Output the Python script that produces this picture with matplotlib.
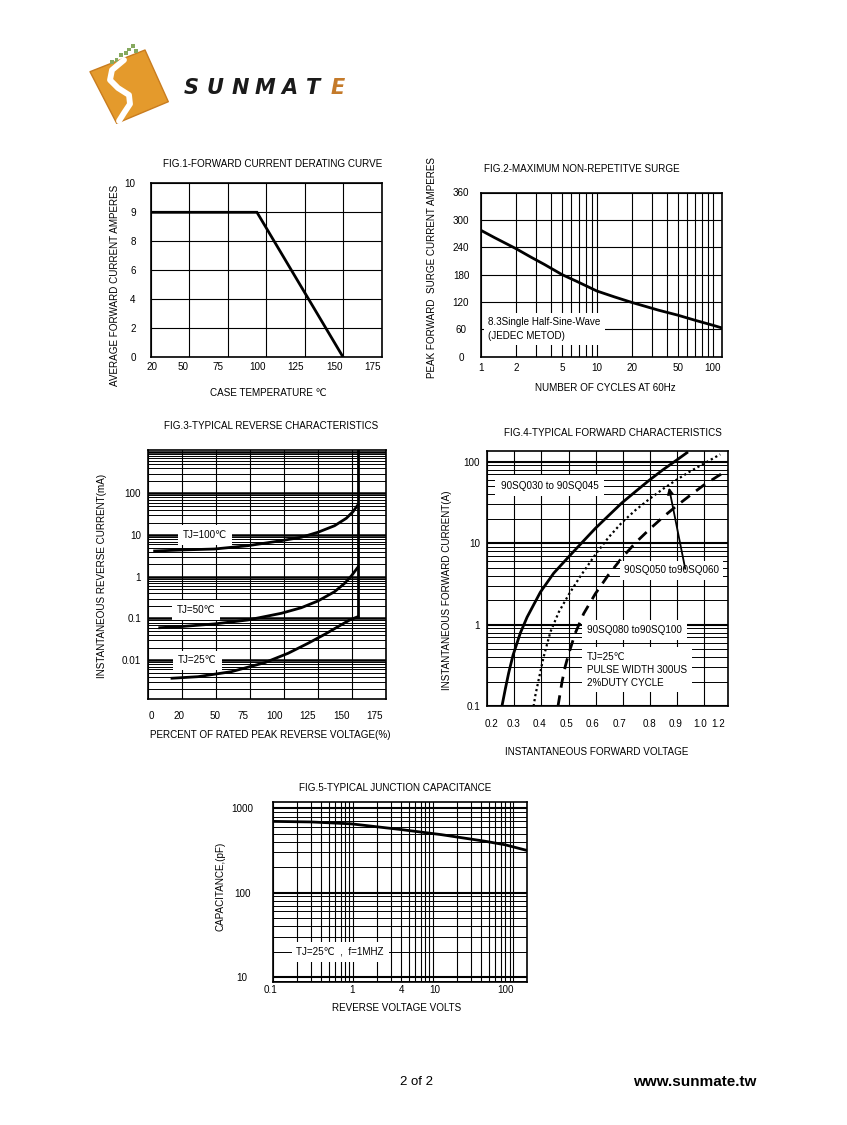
import numpy as np
import matplotlib
matplotlib.use("Agg")
import matplotlib.pyplot as plt
import matplotlib.transforms as mtransforms
from matplotlib.patches import Polygon, Rectangle
from matplotlib.ticker import FixedLocator, NullFormatter, FixedFormatter

plt.rcParams['font.family'] = ['Liberation Sans', 'DejaVu Sans']

# ---------------- data ----------------
# Fig.1 forward current derating
fig1_temp = [20, 94, 150]
fig1_amps = [9, 9, 0]
fig1_xticks = [20, 50, 75, 100, 125, 150, 175]
fig1_yticks = [0, 2, 4, 6, 8, 9, 10]

# Fig.2 max non-repetitive surge
fig2_cycles = [1, 1.31, 2, 2.71, 3.54, 5, 6.85, 10, 14.2, 20, 34, 50, 70, 100, 120]
fig2_amps = [277, 261, 237, 218, 202, 180, 164, 144, 131, 119, 102, 91, 80, 69, 63]
fig2_xticks = [1, 2, 5, 10, 20, 50, 100]
fig2_yticks = [0, 60, 120, 180, 240, 300, 360]

# Fig.3 typical reverse characteristics
fig3_xticks = [0, 20, 50, 75, 100, 125, 150, 175]
fig3_yticks = [0.01, 0.1, 1, 10, 100]
fig3_pct_100 = [3.9, 19.6, 48.8, 73.5, 98, 112.7, 125, 137.2, 145.8, 150.7, 154.3]
fig3_ma_100 = [4.15, 4.39, 4.64, 5.57, 7.34, 8.86, 11.7, 16.8, 25.3, 36.4, 52.7]
fig3_pct_50 = [6.9, 19.6, 48.8, 73.5, 98, 112.7, 125, 137.2, 144.6, 149.5, 154.3]
fig3_ma_50 = [0.060, 0.064, 0.074, 0.092, 0.133, 0.181, 0.263, 0.439, 0.698, 1.045, 1.69]
fig3_pct_25 = [14.1, 34.1, 61.3, 85.8, 103, 117.7, 130, 141, 148.3, 154.3]
fig3_ma_25 = [0.00368, 0.00401, 0.00529, 0.0087, 0.0146, 0.0254, 0.0417, 0.0672, 0.092, 0.110]
fig3_break_pct = [154.3, 154.3]
fig3_break_ma = [0.110, 1100]

# Fig.4 typical forward characteristics
fig4_xticks = [0.2, 0.3, 0.4, 0.5, 0.6, 0.7, 0.8, 0.9, 1.0, 1.2]
fig4_yticks = [0.1, 1, 10, 100]
fig4_v_045 = [0.254, 0.267, 0.279, 0.295, 0.322, 0.347, 0.396, 0.445, 0.501, 0.550,
              0.599, 0.648, 0.697, 0.747, 0.798, 0.849, 0.898, 0.937]
fig4_a_045 = [0.1, 0.166, 0.257, 0.423, 0.792, 1.24, 2.51, 4.28, 6.84, 10.2,
              15.2, 21.8, 31.2, 42.9, 59.1, 79.6, 103.7, 128.5]
fig4_v_060 = [0.371, 0.377, 0.390, 0.408, 0.433, 0.464, 0.501, 0.543, 0.599, 0.648,
              0.697, 0.747, 0.798, 0.849, 0.898, 0.950, 0.999, 1.134]
fig4_a_060 = [0.1, 0.134, 0.214, 0.403, 0.815, 1.43, 2.35, 3.90, 7.24, 11.8,
              17.9, 25.4, 34.7, 46.3, 59.6, 76.2, 94.2, 122.8]
fig4_v_100 = [0.461, 0.476, 0.488, 0.501, 0.525, 0.556, 0.599, 0.648, 0.697, 0.747,
              0.798, 0.849, 0.898, 0.950, 0.999, 1.107, 1.2]
fig4_a_100 = [0.1, 0.200, 0.310, 0.444, 0.792, 1.37, 2.40, 4.12, 6.6, 10.1,
              14.7, 20.9, 28.5, 38.8, 51.4, 65.4, 79.6]
fig4_arrow_tail = (0.931, 4.84)
fig4_arrow_head = (0.871, 48)

# Fig.5 typical junction capacitance
fig5_volts = [0.105, 0.3, 0.95, 4.0, 12.6, 44, 79, 150]
fig5_pf = [700, 690, 655, 560, 488, 408, 370, 316]
fig5_xticks = [0.1, 1, 4, 10, 100]
fig5_yticks = [10, 100, 1000]

# ---------------- layout helpers ----------------
W, H = 847, 1125
FS = 7.1
fig = plt.figure(figsize=(W / 100, H / 100), dpi=100)
fig.patch.set_facecolor('white')


def fx(px):
    return px / W


def fy(py):
    return 1 - py / H


def rect(x0, x1, y0, y1):
    return [x0 / W, 1 - y1 / H, (x1 - x0) / W, (y1 - y0) / H]


def ftxt(px, py, s, **kw):
    kw.setdefault('fontsize', FS)
    kw.setdefault('ha', 'center')
    kw.setdefault('va', 'center')
    fig.text(fx(px), fy(py), s, **kw)


def piecewise_pos(ticks, pos=None):
    t = np.asarray(ticks, dtype=float)
    p = np.arange(len(t), dtype=float) if pos is None else np.asarray(pos, dtype=float)
    return (lambda v: np.interp(v, t, p), lambda q: np.interp(q, p, t))


def style(ax, xpad, ypad):
    for s in ax.spines.values():
        s.set_linewidth(1.2)
        s.set_color('black')
    ax.tick_params(which='both', length=0, labelsize=FS, colors='black')
    ax.tick_params(axis='x', pad=xpad)
    ax.tick_params(axis='y', pad=ypad)
    ax.set_axisbelow(True)


def shift_xlabels(ax, shifts_px):
    for lab, dx in zip(ax.get_xticklabels(), shifts_px):
        lab.set_transform(lab.get_transform() +
                          mtransforms.ScaledTranslation(dx / 100, 0, fig.dpi_scale_trans))


def minor_list(lo_exp, hi_exp, exclude=()):
    out = []
    for e in range(lo_exp, hi_exp + 1):
        for m in range(2, 10):
            v = m * 10.0 ** e
            if not any(abs(v - x) < 1e-9 * max(1, v) for x in exclude):
                out.append(v)
    return out


LW = 2.0

# ---------------- Fig.1 ----------------
ax1 = fig.add_axes(rect(150.7, 381.7, 183.3, 357.3))
ax1.set_xscale('function', functions=piecewise_pos(fig1_xticks))
ax1.set_yscale('function', functions=piecewise_pos(fig1_yticks))
ax1.set_xlim(20, 175)
ax1.set_ylim(0, 10)
ax1.xaxis.set_major_locator(FixedLocator(fig1_xticks))
ax1.yaxis.set_major_locator(FixedLocator(fig1_yticks))
ax1.set_xticklabels([str(v) for v in fig1_xticks])
ax1.set_yticklabels([str(v) for v in fig1_yticks])
ax1.grid(True, color='black', lw=0.8)
ax1.plot(fig1_temp, fig1_amps, color='black', lw=LW, solid_joinstyle='miter')
style(ax1, 3.2, 10.8)
shift_xlabels(ax1, [1.6, -6.6, -10, -9, -9, -9, -9])
ftxt(272.5, 164, 'FIG.1-FORWARD CURRENT DERATING CURVE')
ftxt(115, 285, 'AVERAGE FORWARD CURRENT AMPERES', rotation=90)
ftxt(268, 393, 'CASE TEMPERATURE ℃')

# ---------------- Fig.2 ----------------
ax2 = fig.add_axes(rect(481, 722, 192.5, 356.7))
ax2.set_xscale('log')
ax2.set_xlim(1, 120)
ax2.set_ylim(0, 360)
ax2.xaxis.set_major_locator(FixedLocator(fig2_xticks))
ax2.xaxis.set_major_formatter(FixedFormatter([str(v) for v in fig2_xticks]))
ax2.xaxis.set_minor_locator(FixedLocator(minor_list(0, 1, exclude=fig2_xticks)))
ax2.xaxis.set_minor_formatter(NullFormatter())
ax2.yaxis.set_major_locator(FixedLocator(fig2_yticks))
ax2.set_yticklabels([str(v) for v in fig2_yticks])
plt.setp(ax2.get_yticklabels(), ha='center')
ax2.grid(True, which='both', color='black', lw=0.8)
ax2.plot(fig2_cycles, fig2_amps, color='black', lw=LW)
style(ax2, 4.8, 14.4)
ax2.text(0.03, 0.168, '8.3Single Half-Sine-Wave\n(JEDEC METOD)', transform=ax2.transAxes,
         fontsize=FS, ha='left', va='center', linespacing=1.45,
         bbox=dict(facecolor='white', edgecolor='none', pad=3))
ftxt(581.7, 169.3, 'FIG.2-MAXIMUM NON-REPETITVE SURGE')
ftxt(431.7, 268, 'PEAK FORWARD  SURGE CURRENT AMPERES', rotation=90)
ftxt(605.8, 388.3, 'NUMBER OF CYCLES AT 60Hz')

# ---------------- Fig.3 ----------------
ax3 = fig.add_axes(rect(148, 386, 450, 699.3))
ax3.set_xscale('function', functions=piecewise_pos(fig3_xticks))
ax3.set_yscale('log')
ax3.set_xlim(0, 175)
ax3.set_ylim(0.00115, 1100)
ax3.xaxis.set_major_locator(FixedLocator(fig3_xticks))
ax3.set_xticklabels([str(v) for v in fig3_xticks])
ax3.yaxis.set_major_locator(FixedLocator(fig3_yticks + [0.001, 1000]))
ax3.yaxis.set_major_formatter(FixedFormatter(['0.01', '0.1', '1', '10', '100', '', '']))
ax3.yaxis.set_minor_locator(FixedLocator(minor_list(-3, 2)))
ax3.yaxis.set_minor_formatter(NullFormatter())
ax3.grid(True, axis='x', color='black', lw=0.8)
ax3.grid(True, axis='y', which='major', color='black', lw=1.8)
ax3.grid(True, axis='y', which='minor', color='black', lw=0.7)
ax3.plot(fig3_pct_100, fig3_ma_100, color='black', lw=LW)
ax3.plot(fig3_pct_50, fig3_ma_50, color='black', lw=LW)
ax3.plot(fig3_pct_25, fig3_ma_25, color='black', lw=LW)
ax3.plot(fig3_break_pct, fig3_break_ma, color='black', lw=LW)
style(ax3, 8.2, 5)
shift_xlabels(ax3, [3, -3, -1, -7, -9, -10, -10, -11])
for xf, yf, s in [(0.148, 0.659, 'TJ=100℃'), (0.121, 0.357, 'TJ=50℃'), (0.127, 0.156, 'TJ=25℃')]:
    ax3.text(xf, yf, s, transform=ax3.transAxes, fontsize=FS, ha='left', va='center',
             bbox=dict(facecolor='white', edgecolor='none', pad=3.5))
ftxt(270.7, 426, 'FIG.3-TYPICAL REVERSE CHARACTERISTICS')
ftxt(101.7, 576, 'INSTANTANEOUS REVERSE CURRENT(mA)', rotation=90)
ftxt(270, 735, 'PERCENT OF RATED PEAK REVERSE VOLTAGE(%)')

# ---------------- Fig.4 ----------------
ax4 = fig.add_axes(rect(487.3, 728.3, 451, 706.3))
ax4.set_xscale('function', functions=piecewise_pos(fig4_xticks, [0, 1, 2, 3, 4, 5, 6, 7, 8, 8.9]))
ax4.set_yscale('log')
ax4.set_xlim(0.2, 1.2)
ax4.set_ylim(0.1, 135)
ax4.xaxis.set_major_locator(FixedLocator(fig4_xticks))
ax4.set_xticklabels(['%.1f' % v for v in fig4_xticks])
ax4.yaxis.set_major_locator(FixedLocator(fig4_yticks))
ax4.yaxis.set_major_formatter(FixedFormatter(['0.1', '1', '10', '100']))
ax4.yaxis.set_minor_locator(FixedLocator(minor_list(-1, 2)))
ax4.yaxis.set_minor_formatter(NullFormatter())
ax4.grid(True, axis='x', color='black', lw=0.8)
ax4.grid(True, axis='y', which='major', color='black', lw=1.5)
ax4.grid(True, axis='y', which='minor', color='black', lw=0.7)
ax4.plot(fig4_v_045, fig4_a_045, color='black', lw=LW, solid_joinstyle='round')
ax4.plot(fig4_v_060, fig4_a_060, color='black', lw=1.6, linestyle=(0, (1, 1.3)))
ax4.plot(fig4_v_100, fig4_a_100, color='black', lw=LW, linestyle=(0, (4, 2.8)))
style(ax4, 9.1, 5.3)
shift_xlabels(ax4, [4.4, -1, -1.5, -2, -3.4, -2.8, 0, -1, -3.4, -10])
ax4.text(0.056, 0.863, '90SQ030 to 90SQ045', transform=ax4.transAxes, fontsize=FS,
         ha='left', va='center', bbox=dict(facecolor='white', edgecolor='none', pad=4))
ax4.text(0.567, 0.532, '90SQ050 to90SQ060', transform=ax4.transAxes, fontsize=FS,
         ha='left', va='center', bbox=dict(facecolor='white', edgecolor='none', pad=3))
ax4.text(0.415, 0.299, '90SQ080 to90SQ100', transform=ax4.transAxes, fontsize=FS,
         ha='left', va='center', bbox=dict(facecolor='white', edgecolor='none', pad=3.5))
ax4.text(0.415, 0.143, 'TJ=25℃\nPULSE WIDTH 300US\n2%DUTY CYCLE', transform=ax4.transAxes,
         fontsize=FS, ha='left', va='center', linespacing=1.35,
         bbox=dict(facecolor='white', edgecolor='none', pad=3.5))
ax4.annotate('', xy=fig4_arrow_head, xytext=fig4_arrow_tail,
             arrowprops=dict(arrowstyle='-|>', color='black', lw=1.3, mutation_scale=9,
                             shrinkA=0, shrinkB=0), zorder=6)
ftxt(612.5, 433.3, 'FIG.4-TYPICAL FORWARD CHARACTERISTICS')
ftxt(446.7, 590, 'INSTANTANEOUS FORWARD CURRENT(A)', rotation=90)
ftxt(596.7, 751.7, 'INSTANTANEOUS FORWARD VOLTAGE')

# ---------------- Fig.5 ----------------
ax5 = fig.add_axes(rect(273, 527.3, 802, 982))
ax5.set_xscale('log')
ax5.set_yscale('log')
ax5.set_xlim(0.1, 150)
ax5.set_ylim(8.7, 1190)
ax5.xaxis.set_major_locator(FixedLocator(fig5_xticks))
ax5.xaxis.set_major_formatter(FixedFormatter(['0.1', '1', '4', '10', '100']))
ax5.xaxis.set_minor_locator(FixedLocator(minor_list(-1, 2, exclude=fig5_xticks)))
ax5.xaxis.set_minor_formatter(NullFormatter())
ax5.yaxis.set_major_locator(FixedLocator(fig5_yticks))
ax5.yaxis.set_major_formatter(FixedFormatter(['10', '100', '1000']))
ax5.yaxis.set_minor_locator(FixedLocator(minor_list(0, 2)))
ax5.yaxis.set_minor_formatter(NullFormatter())
plt.setp(ax5.get_yticklabels(), ha='center')
ax5.grid(True, axis='x', which='both', color='black', lw=0.8)
ax5.grid(True, axis='y', which='major', color='black', lw=1.5)
ax5.grid(True, axis='y', which='minor', color='black', lw=0.7)
ax5.plot(fig5_volts, fig5_pf, color='black', lw=LW)
style(ax5, 2.2, 22.3)
shift_xlabels(ax5, [-3, -1.3, 0, 2, -8])
ax5.text(0.092, 0.167, 'TJ=25℃  ,  f=1MHZ', transform=ax5.transAxes, fontsize=FS,
         ha='left', va='center', bbox=dict(facecolor='white', edgecolor='none', pad=3.5))
ftxt(395, 787.7, 'FIG.5-TYPICAL JUNCTION CAPACITANCE')
ftxt(220.7, 886, 'CAPACITANCE,(pF)', rotation=90)
ftxt(396.7, 1008.3, 'REVERSE VOLTAGE VOLTS')

# ---------------- header / footer ----------------
corners = [(90, 71.7), (145, 50), (168.3, 101.7), (116.7, 123.3)]
fig.patches.append(Polygon([(fx(a), fy(b)) for a, b in corners], closed=True,
                           transform=fig.transFigure, facecolor='#E49A2C',
                           edgecolor='#C97C1E', lw=1.0, joinstyle='round'))
s_path = [(124, 60), (112, 70), (110, 80), (118, 88), (129, 95), (130, 104), (124, 113), (119, 121)]
fig.lines.append(plt.Line2D([fx(a) for a, b in s_path], [fy(b) for a, b in s_path],
                            transform=fig.transFigure, color='white', lw=4.2,
                            solid_capstyle='round', solid_joinstyle='round'))
for a, b in [(133, 46), (129, 49.5), (126, 53), (121, 55), (116.5, 60), (112, 62), (136, 51)]:
    fig.patches.append(Rectangle((fx(a - 1.6), fy(b + 1.6)), 3.2 / W, 3.2 / H,
                                 transform=fig.transFigure, facecolor='#86A95F', edgecolor='none'))
for i, ch in enumerate('SUNMATE'):
    ftxt(191 + i * 24.5, 88, ch, fontsize=15, fontweight='bold', fontstyle='italic',
         family='DejaVu Sans', color='#C47A2A' if ch == 'E' else '#1A1A1A')

ftxt(416, 1082, '2 of 2', fontsize=9.5)
ftxt(695, 1082, 'www.sunmate.tw', fontsize=11, fontweight='bold')

fig.savefig('out.png', dpi=100, facecolor='white')
